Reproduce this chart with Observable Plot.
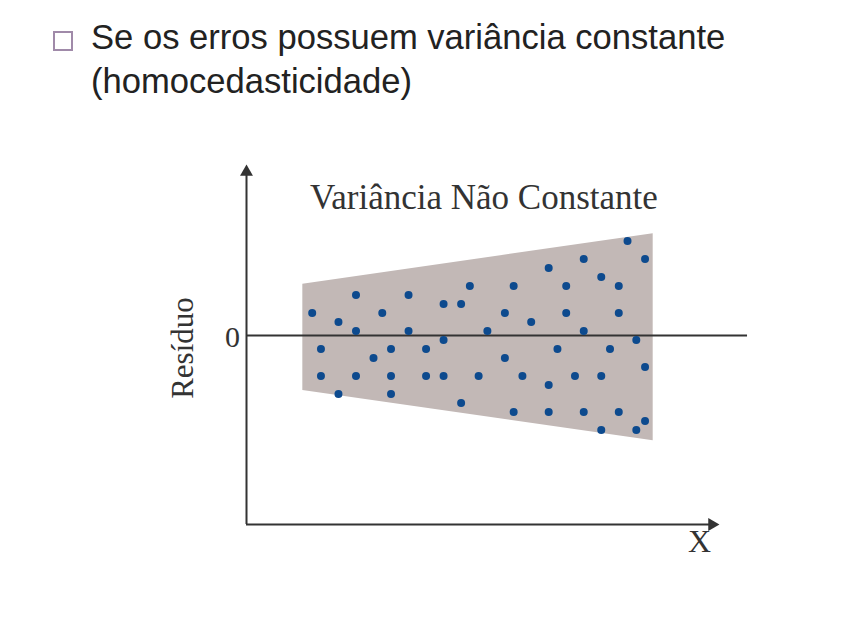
<!DOCTYPE html>
<html>
<head>
<meta charset="utf-8">
<script src="https://cdn.jsdelivr.net/npm/d3@7"></script>
<script src="https://cdn.jsdelivr.net/npm/@observablehq/plot@0.6"></script>
<style>
  html, body { margin: 0; padding: 0; background: #fff; }
  body { width: 848px; height: 635px; overflow: hidden; }
  #title { position: relative; height: 120px; font-family: "Liberation Sans", Arial, sans-serif; font-size: 34.6px; color: #222; }
  #title .bullet { position: absolute; left: 53px; top: 31px; width: 16px; height: 16px; border: 2px solid #a08aa9; }
  #title .lines { position: absolute; left: 91px; top: 16px; line-height: 43.5px; white-space: nowrap; }
  #chart svg { display: block; }
</style>
</head>
<body>
<div id="title">
  <div class="bullet"></div>
  <div class="lines" id="titleLines"></div>
</div>
<div id="chart"></div>
<script>
// ---- text ----
const titleLines = ["Se os erros possuem variância constante", "(homocedasticidade)"];
const chartHeading = "Variância Não Constante";
const yLabel = "Resíduo";
const xLabel = "X";
const zeroLabel = "0";

// ---- residual points (x position, residual) ----
const pointX = [7, 8, 8, 10, 10, 12, 12, 12, 14, 15, 16, 16, 16, 18, 18, 20, 20, 22, 22, 22,
  24, 24, 25, 26, 27, 29, 29, 30, 30, 31, 32, 34, 34, 34, 35, 36, 36, 37, 38, 38, 38,
  40, 40, 40, 41, 42, 42, 42, 43, 44, 44, 45, 45, 45];
const pointResidual = [2.5, -1.5, -4.5, 1.5, -6.5, 4.5, 0.5, -4.5, -2.5, 2.5, -1.5, -4.5, -6.5, 4.5, 0.5, -1.5, -4.5, 3.5, -0.5, -4.5,
  3.5, -7.5, 5.5, -4.5, 0.5, 2.5, -2.5, 5.5, -8.5, -4.5, 1.5, 7.5, -5.5, -8.5, -1.5, 5.5, 2.5, -4.5, 8.5, 0.5, -8.5,
  6.5, -4.5, -10.5, -1.5, 5.5, 2.5, -8.5, 10.5, -0.5, -10.5, 8.5, -3.5, -9.5];

// ---- widening band (heteroscedastic envelope) ----
const bandX = [5.93, 45.93];
const bandLow = [-6.1, -11.7];
const bandHigh = [5.7, 11.3];

// ---- axes extents ----
const axisXStart = -0.5, axisXEnd = 53.5;
const axisYBottom = -21, axisYTop = 19;
const zeroLineEnd = 56.7;

document.getElementById("titleLines").innerHTML = titleLines.join("<br>");

const points = pointX.map((x, i) => ({x, r: pointResidual[i]}));
const band = bandX.map((x, i) => ({x, lo: bandLow[i], hi: bandHigh[i]}));

const serif = "'Liberation Serif', 'Times New Roman', serif";
const ink = "#333";

const chart = Plot.plot({
  width: 848,
  height: 515,
  margin: 0,
  x: {domain: [axisXStart, axisXEnd], range: [246, 719], axis: null},
  y: {domain: [axisYBottom, axisYTop], range: [404, 44], axis: null},
  style: {background: "transparent", overflow: "visible"},
  marks: [
    Plot.areaY(band, {x: "x", y1: "lo", y2: "hi", fill: "#c2b8b6"}),
    Plot.ruleY([0], {x1: axisXStart, x2: zeroLineEnd, stroke: ink, strokeWidth: 2}),
    Plot.ruleX([axisXStart], {y1: axisYBottom, y2: axisYTop - 1, stroke: ink, strokeWidth: 2}),
    Plot.ruleY([axisYBottom], {x1: axisXStart, x2: axisXEnd - 1, stroke: ink, strokeWidth: 2}),
    Plot.dot([{x: axisXStart, y: axisYTop}], {x: "x", y: "y", symbol: "triangle", r: 4.8, fill: ink, stroke: null, dy: 7.5}),
    Plot.dot([{x: axisXEnd, y: axisYBottom}], {x: "x", y: "y", symbol: "triangle", r: 4.8, fill: ink, stroke: null, rotate: 90, dx: -7.5}),
    Plot.dot(points, {x: "x", y: "r", r: 4, fill: "#0d4a8e", stroke: null}),
    Plot.text([chartHeading], {x: 26.6, y: 14.08, text: d => d, fontFamily: serif, fontSize: 35, fill: ink, lineAnchor: "bottom", textAnchor: "middle"}),
    Plot.text([zeroLabel], {x: -2.1, y: -1.3, text: d => d, fontFamily: serif, fontSize: 30, fill: ink, lineAnchor: "bottom", textAnchor: "middle"}),
    Plot.text([yLabel], {x: -6.66, y: -1.39, text: d => d, fontFamily: serif, fontSize: 31, fill: ink, lineAnchor: "bottom", textAnchor: "middle", rotate: -90}),
    Plot.text([xLabel], {x: 51.22, y: -24.1, text: d => d, fontFamily: serif, fontSize: 32, fill: ink, lineAnchor: "bottom", textAnchor: "middle"})
  ]
});
document.getElementById("chart").appendChild(chart);
</script>
</body>
</html>
